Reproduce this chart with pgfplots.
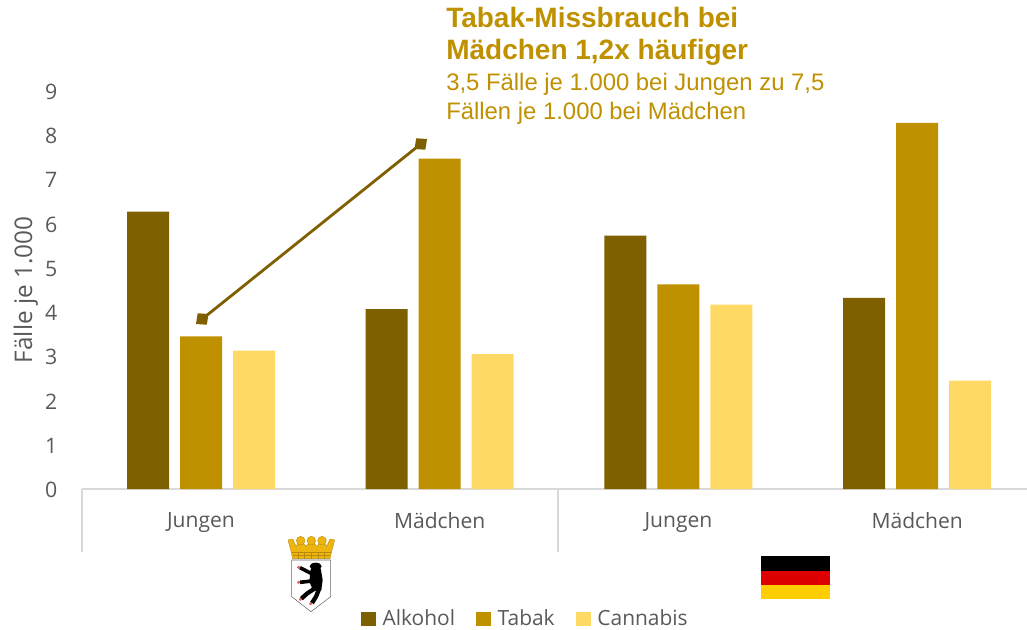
\documentclass[border=0pt]{standalone}
\usepackage{fontspec}
\setmainfont{Open Sans}
\newfontfamily\titlefont{Liberation Sans}
\usepackage{pgfplots}
\pgfplotsset{compat=1.18}
\usetikzlibrary{arrows.meta}
\definecolor{alkohol}{HTML}{7F6000}
\definecolor{tabak}{HTML}{BF9000}
\definecolor{cannabis}{HTML}{FFD966}
\definecolor{labelgray}{HTML}{595959}
\definecolor{axisgray}{HTML}{D9D9D9}
\definecolor{crown}{HTML}{EDB50F}
\definecolor{crowndark}{HTML}{B98A0A}
\definecolor{claw}{HTML}{E0605A}
\definecolor{flagred}{HTML}{DD0000}
\definecolor{flaggold}{HTML}{FFCE00}

\begin{document}
\begin{tikzpicture}
  \path[use as bounding box] (0,0) rectangle (770.25pt,471.75pt);
  \begin{axis}[
    at={(61.5pt,105pt)}, anchor=south west,
    scale only axis,
    width=708.75pt, height=298.5pt,
    xmin=-0.4985, xmax=3.46, ymin=0, ymax=9,
    ybar=8.25pt, bar width=31.5pt,
    xtick={0,1,2,3},
    xticklabels={Jungen,Mädchen,Jungen,Mädchen},
    ytick={0,1,...,9},
    major tick length=0pt,
    axis lines=left,
    axis line style={-},
    y axis line style={draw=none},
    x axis line style={draw=axisgray, line width=1.5pt},
    /pgf/number format/assume math mode=true,
    x tick label style={font=\fontsize{15.8}{19}\selectfont, text=labelgray, yshift=-13.8pt},
    y tick label style={font=\fontsize{16}{19}\selectfont, text=labelgray, xshift=-15pt, yshift=-0.6pt},
    ylabel={Fälle je 1.000},
    ylabel style={at={(axis description cs:-0.0595,0.5),}, anchor=center,
      font=\fontsize{18.2}{22}\selectfont, text=labelgray},
    legend columns=3,
    legend style={at={(axis description cs:0.4696,-0.3265)}, anchor=center,
      draw=none, fill=none, font=\fontsize{15.7}{19}\selectfont, text=labelgray,
      /tikz/every odd column/.append style={column sep=3pt},
      /tikz/every even column/.append style={column sep=14pt},
      inner sep=0pt, outer sep=0pt},
    legend image code/.code={\fill[#1] (0pt,-5.5pt) rectangle (11pt,5.5pt);},
  ]
    \addplot[fill=alkohol, draw=none] coordinates {(0,6.27) (1,4.07) (2,5.73) (3,4.32)};
    \addlegendentry{Alkohol}
    \addplot[fill=tabak, draw=none] coordinates {(0,3.45) (1,7.47) (2,4.63) (3,8.28)};
    \addlegendentry{Tabak}
    \addplot[fill=cannabis, draw=none] coordinates {(0,3.13) (1,3.05) (2,4.17) (3,2.45)};
    \addlegendentry{Cannabis}
  \end{axis}

  % everything below uses reference pixels, y going down
  \begin{scope}[shift={(0,471.75pt)}, x=0.75pt, y=-0.75pt]
  % group separators below the axis
  \draw[axisgray, line width=1.1pt] (82,489) -- (82,552);
  \draw[axisgray, line width=1.1pt] (558,489) -- (558,552);

  % callout
  \draw[alkohol, line width=2.1pt, {Diamond[length=12pt,width=11pt]}-{Diamond[length=12pt,width=11pt]}]
    (196,324) -- (427,139);
  \node[anchor=base west, inner sep=0pt, text=tabak, font=\titlefont\bfseries\fontsize{21}{25}\selectfont] at (446,28) {Tabak-Missbrauch bei};
  \node[anchor=base west, inner sep=0pt, text=tabak, font=\titlefont\bfseries\fontsize{21}{25}\selectfont] at (446,60) {Mädchen 1,2x häufiger};
  \node[anchor=base west, inner sep=0pt, text=tabak, font=\titlefont\fontsize{17.9}{20}\selectfont] at (446,91) {3,5 Fälle je 1.000 bei Jungen zu 7,5};
  \node[anchor=base west, inner sep=0pt, text=tabak, font=\titlefont\fontsize{17.9}{20}\selectfont] at (446,120) {Fällen je 1.000 bei Mädchen};

  % German flag
  \fill[black] (761,556) rectangle (830,570.5);
  \fill[flagred] (761,570.5) rectangle (830,585);
  \fill[flaggold] (761,585) rectangle (830,599);

  % Berlin crest, traced in a 3x grid starting at (270,525)
  \begin{scope}[shift={(270,525)}, x=0.25pt, y=-0.25pt]
    \filldraw[fill=white, draw=black!60, line width=0.4pt]
      (65,105) -- (182,105) -- (182,215) -- (123,260) -- (65,215) -- cycle;
    % bear
    \fill[black] (137,124) ellipse[x radius=18, y radius=11];
    \fill[black] (122,132) -- (152,130) -- (158,165) -- (154,195) -- (130,198) -- (118,170) -- cycle;
    \draw[black, line width=2.7pt] (125,146) -- (90,128);
    \draw[black, line width=2.7pt] (125,168) -- (90,172);
    \draw[black, line width=3.2pt] (138,188) -- (112,205) -- (94,221);
    \draw[black, line width=3.2pt] (148,190) -- (138,215) -- (126,234);
    \fill[claw] (86,127) circle[radius=5];
    \fill[claw] (86,172) circle[radius=5];
    \fill[claw] (91,223) circle[radius=5];
    \fill[claw] (122,236) circle[radius=5];
    % crown
    \filldraw[fill=crown, draw=crowndark, line width=0.3pt]
      (68,101) -- (62,75) -- (54,45) -- (68,42) -- (78,64) -- (84,55) -- (100,55)
      -- (108,64) -- (116,55) -- (132,55) -- (140,64) -- (148,55) -- (164,55)
      -- (170,64) -- (180,42) -- (194,45) -- (186,75) -- (180,101) -- cycle;
    \foreach \cx in {92,124,156}
      \filldraw[fill=crown, draw=crowndark, line width=0.3pt] (\cx,47) circle[radius=13];
    \draw[crowndark, line width=0.3pt] (66,82) -- (182,82);
    \draw[crowndark, line width=0.3pt] (68,92) -- (180,92);
    \foreach \cx in {84,102,124,146,164}
      \draw[crowndark, line width=0.3pt] (\cx,82) -- (\cx,101);
  \end{scope}
  \end{scope}
\end{tikzpicture}
\end{document}
